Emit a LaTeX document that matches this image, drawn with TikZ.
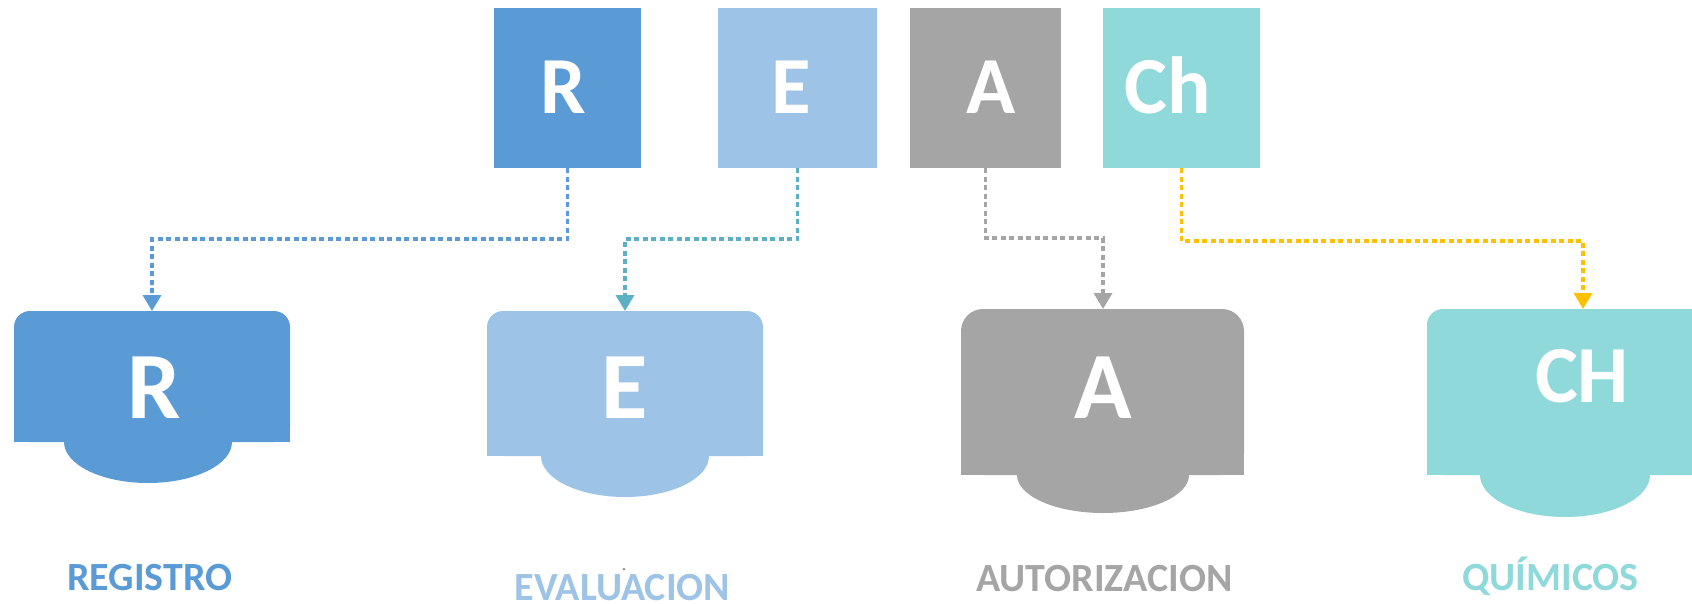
\documentclass[tikz,border=0pt]{standalone}
\usepackage{fontspec}
\setmainfont{Carlito}
\usetikzlibrary{arrows.meta}
\definecolor{cR}{HTML}{5B9BD5}
\definecolor{cE}{HTML}{9DC3E6}
\definecolor{cA}{HTML}{A5A5A5}
\definecolor{cC}{HTML}{8FD9DB}
\definecolor{lE}{HTML}{5BB0C3}
\definecolor{lC}{HTML}{FFC000}
\begin{document}
\begin{tikzpicture}[x=1pt,y=-1pt,
 topbox/.style={minimum height=160pt, inner sep=0pt, outer sep=0pt},
 biglet/.style={text=white, font=\bfseries\fontsize{81}{81}\selectfont, inner sep=0pt, anchor=base},
 shapelet/.style={text=white, font=\bfseries\fontsize{95}{95}\selectfont, inner sep=0pt, anchor=base},
 caption/.style={font=\bfseries\fontsize{40}{40}\selectfont, inner sep=0pt, anchor=base},
 link/.style={line width=3.5pt, dash pattern=on 5pt off 3.5pt, -{Triangle[width=18pt,length=16pt]}}
]
\useasboundingbox (0,0) rectangle (1692,603);
% top boxes
\node[topbox, fill=cR, minimum width=147pt] (Rt) at (567.5,88) {};
\node[topbox, fill=cE, minimum width=159pt] (Et) at (797.5,88) {};
\node[topbox, fill=cA, minimum width=151pt] (At) at (985.5,88) {};
\node[topbox, fill=cC, minimum width=157pt] (Ct) at (1181.5,88) {};
\node[biglet] (Rtl) at (563,113) {R};
\node[biglet] (Etl) at (791,113) {E};
\node[biglet] (Atl) at (991,113) {A};
\node[biglet] (Ctl) at (1168,113) {Ch};
% bottom shapes
\fill[cR, rounded corners=16pt] (14,311) rectangle (290,442);
\fill[cR] (14,400) rectangle (290,442);
\fill[cR] (148,442) ellipse [x radius=84pt, y radius=41pt];
\fill[cE, rounded corners=16pt] (487,311) rectangle (763,456);
\fill[cE] (487,400) rectangle (763,456);
\fill[cE] (625,456) ellipse [x radius=84pt, y radius=41pt];
\fill[cA, rounded corners=22pt] (961,309) rectangle (1244,475);
\fill[cA] (961,400) rectangle (1244,475);
\fill[cA] (1103,475) ellipse [x radius=86pt, y radius=38pt];
\begin{scope}
\clip (0,0) rectangle (1692,603);
\fill[cC, rounded corners=16pt] (1427,309) rectangle (1740,475);
\fill[cC] (1427,400) rectangle (1740,475);
\fill[cC] (1565,475) ellipse [x radius=85pt, y radius=42pt];
\end{scope}
\coordinate (Rb) at (152,311);
\coordinate (Eb) at (625,311);
\coordinate (Ab) at (1103,309);
\coordinate (Cb) at (1583,309);
\node[shapelet] (Rbl) at (154,418) {R};
\node[shapelet] (Ebl) at (625,418) {E};
\node[shapelet] (Abl) at (1103,418) {A};
\node[shapelet, font=\bfseries\fontsize{81}{81}\selectfont] (Cbl) at (1582,402) {CH};
% connectors
\draw[link, cR] (Rt.south) -- ++(0,71) -| (Rb);
\draw[link, lE] (Et.south) -- ++(0,71) -| (Eb);
\draw[link, cA] (At.south) -- ++(0,70) -| (Ab);
\draw[link, lC] (Ct.south) -- ++(0,73) -| (Cb);
% captions
\node[caption, text=cR] (cap1) at (149.7,590) {REGISTRO};
\node[caption, text=cE] (cap2) at (622.5,600) {EVALUACION};
\node[caption, text=cA] (cap3) at (1104.5,591) {AUTORIZACION};
\node[caption, text=cC] (cap4) at (1550.5,590) {QUÍMICOS};
\fill[black!70] (624,569) circle (1pt);
\end{tikzpicture}
\end{document}
